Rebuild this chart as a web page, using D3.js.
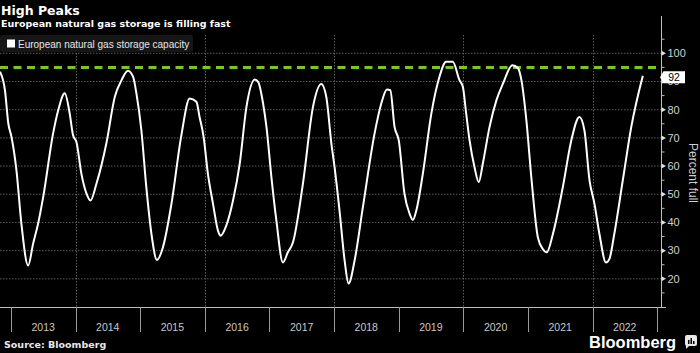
<!DOCTYPE html>
<html>
<head>
<meta charset="utf-8">
<script src="https://cdn.jsdelivr.net/npm/d3@7"></script>
<style>
  html, body { margin: 0; padding: 0; background: #000; }
  svg { display: block; }
</style>
</head>
<body>
<div id="chart"></div>
<script>
'use strict';

// ── Data ───────────────────────────────────────────────────
const dates = [
  '2012-10-31','2012-11-28','2012-12-17','2013-01-04','2013-02-01','2013-03-01','2013-04-08','2013-05-06',
  '2013-06-03','2013-07-02','2013-08-27','2013-09-25','2013-11-01','2013-11-29','2013-12-18','2014-01-06',
  '2014-02-03','2014-03-04','2014-03-26','2014-04-29','2014-06-24','2014-08-11','2014-09-18','2014-10-24',
  '2014-11-22','2014-12-11','2015-01-08','2015-02-05','2015-03-06','2015-04-06','2015-05-10','2015-06-27',
  '2015-08-22','2015-10-08','2015-11-15','2015-12-03','2015-12-26','2016-01-19','2016-02-17','2016-03-16',
  '2016-03-31','2016-05-02','2016-06-09','2016-07-17','2016-08-24','2016-10-10','2016-10-29','2016-11-26',
  '2016-12-15','2017-01-12','2017-02-09','2017-03-18','2017-04-15','2017-05-14','2017-07-09','2017-09-04',
  '2017-10-21','2017-11-18','2017-12-17','2018-01-04','2018-02-01','2018-03-02','2018-03-24','2018-04-27',
  '2018-06-13','2018-08-18','2018-09-25','2018-10-27','2018-11-15','2018-12-09','2019-01-02','2019-02-03',
  '2019-03-04','2019-03-23','2019-04-11','2019-05-18','2019-07-05','2019-08-20','2019-09-27','2019-11-03',
  '2019-12-11','2019-12-30','2020-01-18','2020-02-06','2020-03-05','2020-03-29','2020-04-21','2020-05-29',
  '2020-07-07','2020-08-13','2020-10-05','2020-11-06','2020-11-25','2020-12-23','2021-01-20','2021-02-26',
  '2021-03-26','2021-04-17','2021-05-22','2021-07-17','2021-09-03','2021-10-19','2021-11-16','2021-12-15',
  '2022-01-12','2022-02-09','2022-03-18','2022-04-06','2022-05-04','2022-06-21','2022-08-08','2022-10-12'
];

const pctFull = [
  93.5, 86.9, 75.1, 70.3, 58.5, 39.5, 24.7, 32.4,
  39.5, 49.0, 71.5, 79.8, 85.8, 78.6, 70.9, 68.5,
  57.3, 50.2, 47.8, 53.7, 68.0, 84.6, 90.5, 93.8,
  91.7, 85.8, 72.7, 52.5, 35.9, 26.7, 31.2, 46.6,
  70.9, 84.0, 82.8, 77.4, 70.3, 57.3, 46.6, 37.1,
  35.3, 38.9, 47.8, 60.9, 81.0, 90.7, 89.9, 82.2,
  73.9, 56.1, 40.7, 25.8, 29.4, 33.0, 53.7, 81.0,
  89.1, 84.6, 68.0, 59.6, 44.2, 26.4, 18.3, 26.4,
  45.4, 71.5, 82.2, 87.2, 86.9, 73.9, 69.1, 50.2,
  43.1, 40.9, 44.2, 57.3, 78.6, 91.7, 97.0, 97.0,
  90.5, 88.1, 78.6, 69.1, 59.6, 54.3, 60.9, 73.9,
  83.4, 89.3, 95.8, 94.7, 90.5, 76.3, 56.1, 34.7,
  30.6, 29.4, 35.9, 52.5, 69.1, 77.4, 72.7, 54.9,
  46.6, 35.9, 25.8, 27.0, 35.9, 54.9, 73.9, 92.0
];

const years       = [2013, 2014, 2015, 2016, 2017, 2018, 2019, 2020, 2021, 2022];
const yTicks      = [20, 30, 40, 50, 60, 70, 80, 90, 100];
const yMinorTicks = [15, 25, 35, 45, 55, 65, 75, 85, 95, 105];
const targetLevel = 95;
const xDomain     = ['2012-10-31', '2023-01-23'];
const yDomain     = [10, 106.5];

// ── Layout ─────────────────────────────────────────────────
const W = 700, H = 353;
const plot = { left: 0, right: 661, top: 35, bottom: 307 };

const parse = d3.utcParse('%Y-%m-%d');
const series = dates.map((d, i) => ({ date: parse(d), value: pctFull[i] }));

const x = d3.scaleUtc()
    .domain(xDomain.map(parse))
    .range([plot.left, plot.right]);

const y = d3.scaleLinear()
    .domain(yDomain)
    .range([plot.bottom, plot.top]);

const svg = d3.select('#chart').append('svg')
    .attr('width', W)
    .attr('height', H)
    .style('background', '#000');

const GRID = '#5a5a5a';

// ── Gridlines ──────────────────────────────────────────────
svg.append('g')
  .selectAll('line')
  .data(yTicks)
  .join('line')
    .attr('x1', plot.left).attr('x2', plot.right)
    .attr('y1', d => y(d)).attr('y2', d => y(d))
    .attr('stroke', GRID)
    .attr('stroke-width', 1)
    .attr('stroke-dasharray', '1.5,1.5');

const gridYears = years.filter(yr => yr % 2 === 0);
svg.append('g')
  .selectAll('line')
  .data(gridYears)
  .join('line')
    .attr('x1', d => Math.round(x(Date.UTC(d, 0, 1))) + 0.5)
    .attr('x2', d => Math.round(x(Date.UTC(d, 0, 1))) + 0.5)
    .attr('y1', plot.top).attr('y2', plot.bottom)
    .attr('stroke', GRID)
    .attr('stroke-width', 1)
    .attr('stroke-dasharray', '1.5,1.5');

// ── Legend ─────────────────────────────────────────────────
const legend = svg.append('g');
legend.append('rect')
    .attr('x', 0).attr('y', 35)
    .attr('width', 193).attr('height', 17)
    .attr('rx', 2)
    .attr('fill', '#161616');
legend.append('rect')
    .attr('x', 7).attr('y', 39.5)
    .attr('width', 8).attr('height', 8)
    .attr('fill', '#fff');
legend.append('text')
    .attr('x', 18).attr('y', 47.5)
    .attr('font-family', 'Liberation Sans, Arial, sans-serif')
    .attr('font-size', 10)
    .attr('fill', '#e6e6e6')
    .text('European natural gas storage capacity');

// ── Target (95%) dashed line ───────────────────────────────
svg.append('line')
    .attr('x1', plot.left).attr('x2', plot.right)
    .attr('y1', y(targetLevel)).attr('y2', y(targetLevel))
    .attr('stroke', '#7cc622')
    .attr('stroke-width', 3)
    .attr('stroke-dasharray', '8,5.5');

// ── Series line ────────────────────────────────────────────
const line = d3.line()
    .x(d => x(d.date))
    .y(d => y(d.value))
    .curve(d3.curveMonotoneX);

svg.append('path')
    .datum(series)
    .attr('d', line)
    .attr('fill', 'none')
    .attr('stroke', '#fff')
    .attr('stroke-width', 2)
    .attr('stroke-linejoin', 'round');

// ── Right y-axis ───────────────────────────────────────────
const yAxisG = svg.append('g')
    .attr('transform', `translate(${plot.right + 0.5},0)`);

yAxisG.append('line')
    .attr('y1', 16).attr('y2', plot.bottom)
    .attr('stroke', '#bdbdbd');

yAxisG.selectAll('line.minor')
  .data(yMinorTicks)
  .join('line')
    .attr('class', 'minor')
    .attr('x1', 0).attr('x2', 3)
    .attr('y1', d => y(d)).attr('y2', d => y(d))
    .attr('stroke', '#bdbdbd');

yAxisG.selectAll('path.major')
  .data(yTicks)
  .join('path')
    .attr('class', 'major')
    .attr('d', d => `M0,${y(d) - 2.5}L4.5,${y(d)}L0,${y(d) + 2.5}Z`)
    .attr('fill', '#e0e0e0');

yAxisG.selectAll('text')
  .data(yTicks)
  .join('text')
    .attr('x', 6)
    .attr('y', d => y(d))
    .attr('dy', '0.35em')
    .attr('font-family', 'Liberation Sans, Arial, sans-serif')
    .attr('font-size', 11)
    .attr('fill', '#d0d0d0')
    .text(d => d);

svg.append('text')
    .attr('transform', `translate(689,173) rotate(90)`)
    .attr('text-anchor', 'middle')
    .attr('font-family', 'Liberation Sans, Arial, sans-serif')
    .attr('font-size', 12)
    .attr('fill', '#cfcfcf')
    .text('Percent full');

// ── Last value callout ─────────────────────────────────────
const last = series[series.length - 1];
const ly = y(last.value) + 1.5;
svg.append('path')
    .attr('d', `M660,${ly}L663.5,${ly - 6}H685V${ly + 6}H663.5Z`)
    .attr('fill', '#fff');
svg.append('text')
    .attr('x', 674).attr('y', ly)
    .attr('dy', '0.35em')
    .attr('text-anchor', 'middle')
    .attr('font-family', 'Liberation Sans, Arial, sans-serif')
    .attr('font-size', 10.5)
    .attr('fill', '#000')
    .text(d3.format('.0f')(last.value));

// ── Bottom year axis ───────────────────────────────────────
svg.append('line')
    .attr('x1', plot.left).attr('x2', plot.right + 5)
    .attr('y1', plot.bottom + 0.5).attr('y2', plot.bottom + 0.5)
    .attr('stroke', '#bdbdbd');

const boundaries = years.concat([years[years.length - 1] + 1]);
svg.append('g')
  .selectAll('line')
  .data(boundaries)
  .join('line')
    .attr('x1', d => Math.round(x(Date.UTC(d, 0, 1))) + 0.5)
    .attr('x2', d => Math.round(x(Date.UTC(d, 0, 1))) + 0.5)
    .attr('y1', plot.bottom).attr('y2', plot.bottom + 25)
    .attr('stroke', '#9a9a9a');

svg.append('g')
  .selectAll('text')
  .data(years)
  .join('text')
    .attr('x', d => x(Date.UTC(d, 6, 2)))
    .attr('y', 327)
    .attr('dy', '0.35em')
    .attr('text-anchor', 'middle')
    .attr('font-family', 'Liberation Sans Narrow, Liberation Sans, sans-serif')
    .attr('font-size', 10.5)
    .attr('fill', '#c8c8c8')
    .text(d => d);

// ── Titles & footer ────────────────────────────────────────
svg.append('text')
    .attr('x', 1).attr('y', 15)
    .attr('font-family', 'DejaVu Sans, sans-serif')
    .attr('font-weight', 700)
    .attr('font-size', 12.5)
    .attr('fill', '#fff')
    .text('High Peaks');

svg.append('text')
    .attr('x', 1).attr('y', 27)
    .attr('font-family', 'DejaVu Sans, sans-serif')
    .attr('font-weight', 700)
    .attr('font-size', 9.5)
    .attr('fill', '#fff')
    .text('European natural gas storage is filling fast');

svg.append('text')
    .attr('x', 4).attr('y', 348)
    .attr('font-family', 'DejaVu Sans, sans-serif')
    .attr('font-weight', 700)
    .attr('font-size', 9.5)
    .attr('fill', '#e8e8e8')
    .text('Source: Bloomberg');

svg.append('text')
    .attr('x', 589).attr('y', 348)
    .attr('font-family', 'Liberation Sans, Arial, sans-serif')
    .attr('font-weight', 700)
    .attr('font-size', 16.5)
    .attr('fill', '#fff')
    .text('Bloomberg');

// small logo glyph
const logo = svg.append('g').attr('transform', 'translate(685,335)');
logo.append('rect')
    .attr('width', 12).attr('height', 11)
    .attr('rx', 2)
    .attr('fill', '#e8e8e8');
logo.append('path')
    .attr('d', 'M1,10 L1,14 L5,10 Z')
    .attr('fill', '#e8e8e8');
[[3, 5], [5.5, 3], [8, 6]].forEach(([bx, by]) => {
  logo.append('rect')
      .attr('x', bx).attr('y', by)
      .attr('width', 1.5).attr('height', 9 - by)
      .attr('fill', '#000');
});
</script>
</body>
</html>
